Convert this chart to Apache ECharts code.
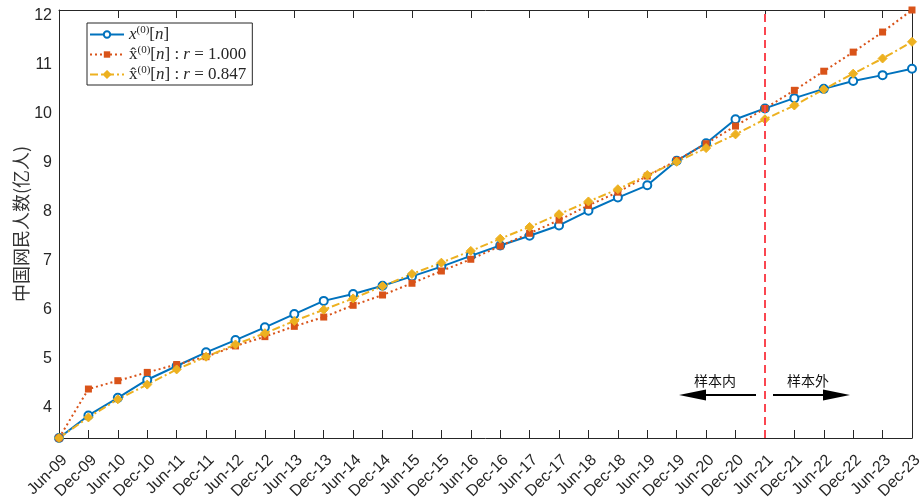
<!DOCTYPE html>
<html>
<head>
<meta charset="utf-8">
<script src="https://cdn.jsdelivr.net/npm/echarts@6/dist/echarts.min.js"></script>
<style>
  html, body { margin: 0; padding: 0; background: #fff; }
  #chart { width: 923px; height: 503px; }
</style>
</head>
<body>
<div id="chart"></div>
<script>
// half-year periods
const periods = [
  'Jun-09', 'Dec-09', 'Jun-10', 'Dec-10', 'Jun-11', 'Dec-11', 'Jun-12', 'Dec-12',
  'Jun-13', 'Dec-13', 'Jun-14', 'Dec-14', 'Jun-15', 'Dec-15', 'Jun-16', 'Dec-16',
  'Jun-17', 'Dec-17', 'Jun-18', 'Dec-18', 'Jun-19', 'Dec-19', 'Jun-20', 'Dec-20',
  'Jun-21', 'Dec-21', 'Jun-22', 'Dec-22', 'Jun-23', 'Dec-23'
]
// observed x(0)[n]
const observed = [
  3.38, 3.84, 4.20, 4.57, 4.85, 5.13, 5.38, 5.64, 5.91, 6.18,
  6.32, 6.49, 6.68, 6.88, 7.10, 7.31, 7.51, 7.72, 8.02, 8.29,
  8.54, 9.04, 9.40, 9.89, 10.11, 10.32, 10.51, 10.67, 10.79, 10.92
]
// fitted, r = 1.000
const fitR1 = [
  3.38, 4.38, 4.55, 4.72, 4.88, 5.04, 5.26, 5.45, 5.66, 5.85,
  6.09, 6.30, 6.54, 6.79, 7.03, 7.30, 7.56, 7.83, 8.13, 8.40,
  8.73, 9.05, 9.39, 9.75, 10.11, 10.48, 10.87, 11.26, 11.67, 12.12
]
// fitted, r = 0.847
const fitR2 = [
  3.38, 3.80, 4.17, 4.47, 4.78, 5.04, 5.29, 5.52, 5.77, 6.00,
  6.23, 6.48, 6.73, 6.96, 7.20, 7.45, 7.69, 7.95, 8.21, 8.46,
  8.75, 9.02, 9.30, 9.58, 9.89, 10.17, 10.50, 10.82, 11.13, 11.47
]
const splitAt = 'Jun-21'
const yMin = 3.38
const yMax = 12.12

const axisColor = '#262626'
const mathFont = 'Liberation Serif'

const legendText = {
  obs: '{i|x}{sup|(0)}{t|[}{i|n}{t|]}',
  r1: '{t|x\u0302}{sup|(0)}{t|[}{i|n}{t|] : }{i|r}{t| = 1.000}',
  r2: '{t|x\u0302}{sup|(0)}{t|[}{i|n}{t|] : }{i|r}{t| = 0.847}'
}

const chart = echarts.init(document.getElementById('chart'))

chart.setOption({
  backgroundColor: '#fff',
  animation: false,
  grid: { left: 59, right: 11, top: 10, bottom: 65, outerBoundsMode: 'none' },
  legend: {
    orient: 'vertical',
    left: 87,
    top: 23,
    padding: [2, 6, 2, 2],
    itemGap: 2,
    itemWidth: 34,
    itemHeight: 8,
    borderColor: axisColor,
    borderWidth: 1,
    backgroundColor: '#fff',
    formatter: name => legendText[name],
    textStyle: {
      color: axisColor,
      rich: {
        i: { fontFamily: mathFont, fontStyle: 'italic', fontSize: 17, color: axisColor, lineHeight: 19 },
        t: { fontFamily: mathFont, fontSize: 17, color: axisColor, lineHeight: 19 },
        sup: { fontFamily: mathFont, fontSize: 11, color: axisColor, verticalAlign: 'top', lineHeight: 11 }
      }
    },
    data: ['obs', 'r1', 'r2']
  },
  xAxis: [
    {
      type: 'category',
      data: periods,
      boundaryGap: false,
      axisLine: { lineStyle: { color: axisColor, width: 1 } },
      axisTick: { inside: true, length: 8, lineStyle: { color: axisColor } },
      axisLabel: {
        interval: 0,
        rotate: 45,
        margin: 14,
        verticalAlign: 'top',
        fontSize: 16,
        fontFamily: 'Liberation Sans',
        color: axisColor
      },
      splitLine: { show: false }
    },
    {
      type: 'category',
      data: periods,
      position: 'top',
      boundaryGap: false,
      axisLine: { lineStyle: { color: axisColor, width: 1 } },
      axisTick: { inside: true, length: 8, lineStyle: { color: axisColor } },
      axisLabel: { show: false },
      splitLine: { show: false }
    }
  ],
  yAxis: [
    {
      type: 'value',
      min: yMin,
      max: yMax,
      minInterval: 1,
      maxInterval: 1,
      name: '中国网民人数(亿人)',
      nameLocation: 'middle',
      nameGap: 29,
      nameMoveOverlap: false,
      nameTextStyle: { fontSize: 18, fontFamily: 'Noto Sans CJK SC', color: '#333' },
      axisLine: { show: true, lineStyle: { color: axisColor, width: 1 } },
      axisTick: { inside: true, length: 8, lineStyle: { color: axisColor } },
      axisLabel: {
        fontSize: 16,
        fontFamily: 'Liberation Sans',
        color: axisColor,
        margin: 7,
        showMinLabel: false,
        showMaxLabel: false,
        formatter: v => (Math.abs(v - Math.round(v)) < 1e-6 ? String(Math.round(v)) : '')
      },
      splitLine: { show: false }
    },
    {
      type: 'value',
      position: 'right',
      min: yMin,
      max: yMax,
      minInterval: 1,
      maxInterval: 1,
      axisLine: { show: true, lineStyle: { color: axisColor, width: 1 } },
      axisTick: { inside: true, length: 8, lineStyle: { color: axisColor } },
      axisLabel: { show: false },
      splitLine: { show: false }
    }
  ],
  series: [
    {
      name: 'obs',
      type: 'line',
      data: observed,
      symbol: 'emptyCircle',
      symbolSize: 8,
      showAllSymbol: true,
      color: '#0072BD',
      lineStyle: { width: 2, color: '#0072BD' },
      itemStyle: { color: '#0072BD', borderWidth: 1.6 },
      markLine: {
        silent: true,
        symbol: 'none',
        label: { show: false },
        lineStyle: { color: '#fa4650', type: [8, 5], width: 2 },
        data: [{ xAxis: splitAt }]
      }
    },
    {
      name: 'r1',
      type: 'line',
      data: fitR1,
      symbol: 'rect',
      symbolSize: 7,
      showAllSymbol: true,
      color: '#D95319',
      lineStyle: { width: 2, color: '#D95319', type: [2, 3] },
      itemStyle: { color: '#D95319' }
    },
    {
      name: 'r2',
      type: 'line',
      data: fitR2,
      symbol: 'diamond',
      symbolSize: 9,
      showAllSymbol: true,
      color: '#EDB120',
      lineStyle: { width: 2, color: '#EDB120', type: [8, 3, 2, 3] },
      itemStyle: { color: '#EDB120', borderColor: '#EDB120', borderWidth: 1 }
    }
  ],
  graphic: [
    { type: 'text', left: 694, top: 374, style: { text: '样本内', fontSize: 14, fontFamily: 'Noto Sans CJK SC', fill: '#111' } },
    { type: 'text', left: 787, top: 374, style: { text: '样本外', fontSize: 14, fontFamily: 'Noto Sans CJK SC', fill: '#111' } },
    { type: 'line', shape: { x1: 705, y1: 395, x2: 756, y2: 395 }, style: { stroke: '#000', lineWidth: 2 } },
    { type: 'polygon', shape: { points: [[679, 395], [706, 389.5], [706, 400.5]] }, style: { fill: '#000' } },
    { type: 'line', shape: { x1: 773, y1: 395, x2: 825, y2: 395 }, style: { stroke: '#000', lineWidth: 2 } },
    { type: 'polygon', shape: { points: [[850, 395], [823, 389.5], [823, 400.5]] }, style: { fill: '#000' } }
  ]
})
</script>
</body>
</html>
